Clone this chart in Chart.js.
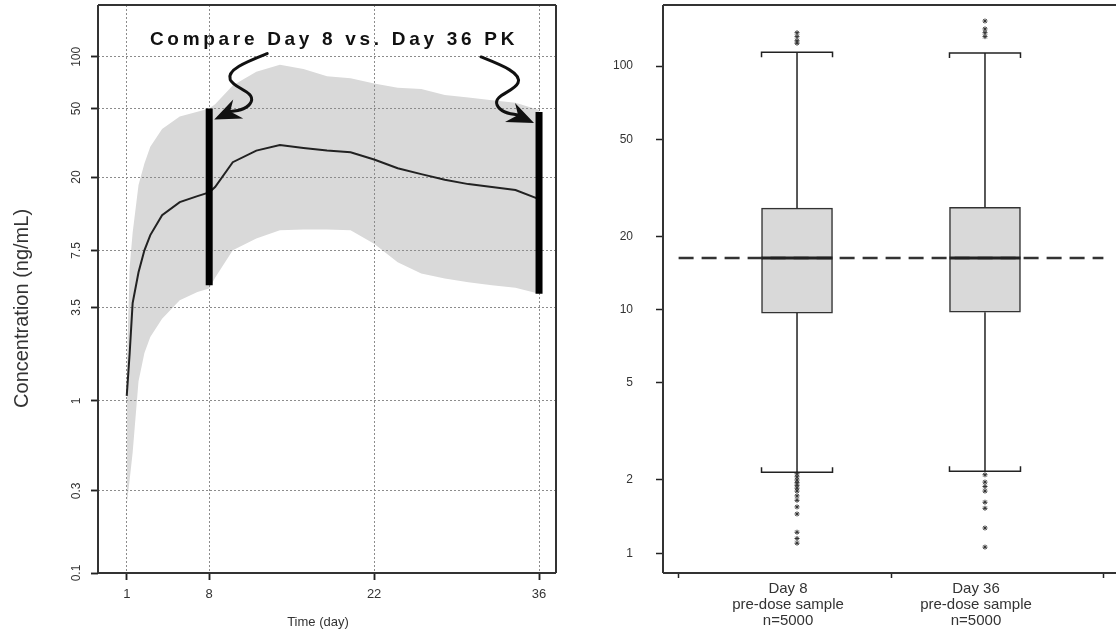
<!DOCTYPE html>
<html>
  <head>
    <title>Day 8 vs Day 36 PK</title>
    <script src="https://cdn.jsdelivr.net/npm/chart.js"></script>
    <style>
      body {
        margin: 0;
        background: white;
        overflow: hidden;
      }
      #left {
        position: absolute;
        left: 0;
        top: 0;
      }
      #right {
        position: absolute;
        left: 575px;
        top: 0;
      }
    </style>
  </head>
  <body>
    <canvas id="left" width="575" height="633"></canvas>
    <canvas id="right" width="546" height="633"></canvas>

    <script>
      // left panel: simulated concentration-time profile
      const days = [1, 1.25, 1.5, 2, 2.5, 3, 4, 5.5, 7, 8, 8.5, 10, 12, 14, 16, 18, 20, 22, 24, 26, 28, 30, 32, 34, 36];
      const meanConc = [1.07, 1.9, 3.7, 5.6, 7.5, 9.2, 12.0, 14.3, 15.5, 16.3, 17.5, 24.4, 28.5, 30.7, 29.5, 28.5, 27.9, 25.3, 22.5, 20.8, 19.3, 18.2, 17.5, 16.8, 14.9];
      const lowerConc = [0.25, 0.35, 0.5, 1.3, 1.9, 2.35, 3.0, 3.85, 4.3, 4.5, 5.2, 7.5, 8.8, 9.8, 9.9, 9.9, 9.8, 8.2, 6.4, 5.5, 5.15, 4.9, 4.7, 4.55, 4.2];
      const upperConc = [1.5, 6, 9.5, 18, 24, 30, 38, 45, 48, 50, 53, 68, 82, 90, 85, 77, 75, 70, 66, 65, 60, 58, 56, 54, 49];
      const compareDays = [8, 36];
      const compareLow = [4.7, 4.2];
      const compareHigh = [50, 47.8];
      const timeTicks = [1, 8, 22, 36];
      const concTicks = [0.1, 0.3, 1, 3.5, 7.5, 20, 50, 100];
      const panelTitle = "Compare Day 8 vs. Day 36 PK";

      // right panel: pre-dose sample boxplots
      const groups = [
        ["Day 8", "pre-dose sample", "n=5000"],
        ["Day 36", "pre-dose sample", "n=5000"],
      ];
      const groupPos = [1, 2];
      const q1 = [9.68, 9.76];
      const medians = [16.3, 16.3];
      const q3 = [26.1, 26.3];
      const whiskLow = [2.15, 2.17];
      const whiskHigh = [114, 113];
      const outliersDay8 = [137, 132, 127, 124, 2.12, 2.06, 2.0, 1.95, 1.9, 1.85, 1.8, 1.72, 1.65, 1.55, 1.45, 1.22, 1.15, 1.1];
      const outliersDay36 = [153, 142, 137, 132, 2.1, 1.96, 1.88, 1.8, 1.62, 1.53, 1.27, 1.06];
      const refLevel = 16.3;
      const boxTicks = [0.37, 1.5, 2.63];
      const boxYTicks = [1, 2, 5, 10, 20, 50, 100];

      Chart.defaults.font.family = "'Liberation Sans', Arial, sans-serif";
      Chart.defaults.color = "#333";

      const frame = (sides) => ({
        id: "frame",
        afterDraw(chart) {
          const { ctx, chartArea: a } = chart;
          ctx.save();
          ctx.strokeStyle = "#333";
          ctx.lineWidth = 2;
          ctx.beginPath();
          if (sides.includes("t")) { ctx.moveTo(a.left, a.top); ctx.lineTo(a.right, a.top); }
          if (sides.includes("r")) { ctx.moveTo(a.right, a.top); ctx.lineTo(a.right, a.bottom); }
          if (sides.includes("b")) { ctx.moveTo(a.left, a.bottom); ctx.lineTo(a.right, a.bottom); }
          if (sides.includes("l")) { ctx.moveTo(a.left, a.top); ctx.lineTo(a.left, a.bottom); }
          ctx.stroke();
          ctx.restore();
        },
      });

      // put the dotted grid back on top of the shaded band, under the lines
      const gridOverBand = {
        id: "gridOverBand",
        beforeDatasetDraw(chart, args) {
          if (args.index === 2) {
            chart.scales.x.drawGrid(chart.chartArea);
            chart.scales.y.drawGrid(chart.chartArea);
          }
        },
      };

      const annotations = {
        id: "annotations",
        afterDatasetsDraw(chart) {
          const { ctx, chartArea: a, scales } = chart;
          ctx.save();
          ctx.font = "bold 19px 'Liberation Sans', Arial, sans-serif";
          ctx.letterSpacing = "3.7px";
          ctx.fillStyle = "#111";
          ctx.textAlign = "center";
          ctx.textBaseline = "middle";
          ctx.fillText(panelTitle, (a.left + a.right) / 2 + 7, a.top + 35);
          ctx.letterSpacing = "0px";

          // wavy arrows pointing at the top of each comparison bar
          compareDays.forEach((d, i) => {
            const s = i === 0 ? 1 : -1;
            const tx = scales.x.getPixelForValue(d) + 5 * s;
            const ty = scales.y.getPixelForValue(compareHigh[i]) + 11;
            const P = (dx, dy) => [tx + dx * s, ty + dy];
            ctx.strokeStyle = "#111";
            ctx.fillStyle = "#111";
            ctx.lineWidth = 3;
            ctx.lineCap = "round";
            ctx.beginPath();
            ctx.moveTo(...P(53, -66));
            ctx.bezierCurveTo(...P(33, -58), ...P(12, -50), ...P(16, -40));
            ctx.bezierCurveTo(...P(20, -31), ...P(41, -28), ...P(37, -18));
            ctx.bezierCurveTo(...P(34, -11), ...P(26, -9), ...P(16, -8));
            ctx.stroke();
            ctx.beginPath();
            ctx.moveTo(...P(0, 0));
            ctx.lineTo(...P(29, -1));
            ctx.lineTo(...P(16, -8));
            ctx.lineTo(...P(19, -20));
            ctx.closePath();
            ctx.fill();
          });
          ctx.restore();
        },
      };

      new Chart(document.getElementById("left").getContext("2d"), {
        type: "line",
        data: {
          datasets: [
            {
              data: days.map((t, i) => ({ x: t, y: lowerConc[i] })),
              borderWidth: 0,
              pointRadius: 0,
              fill: false,
              order: 5,
            },
            {
              data: days.map((t, i) => ({ x: t, y: upperConc[i] })),
              borderWidth: 0,
              pointRadius: 0,
              backgroundColor: "#d9d9d9",
              fill: "-1",
              order: 4,
            },
            {
              data: days.map((t, i) => ({ x: t, y: meanConc[i] })),
              borderColor: "#222",
              borderWidth: 2,
              pointRadius: 0,
              fill: false,
              order: 2,
            },
            ...compareDays.map((d, i) => ({
              data: [
                { x: d, y: compareLow[i] },
                { x: d, y: compareHigh[i] },
              ],
              borderColor: "#000",
              borderWidth: 7,
              borderCapStyle: "butt",
              pointRadius: 0,
              fill: false,
              order: 1,
            })),
          ],
        },
        options: {
          responsive: false,
          animation: false,
          layout: { padding: { left: 0, top: 5, right: 19, bottom: 0 } },
          plugins: {
            legend: { display: false },
            tooltip: { enabled: false },
          },
          scales: {
            x: {
              type: "linear",
              min: -1.44,
              max: 37.44,
              afterBuildTicks: (s) => {
                s.ticks = timeTicks.map((v) => ({ value: v }));
              },
              afterFit: (s) => {
                s.height = 60;
                s.paddingLeft = 0;
                s.paddingRight = 0;
              },
              grid: {
                color: "#8c8c8c",
                lineWidth: 1,
                tickLength: 7,
                tickColor: "#222",
                tickWidth: 1.5,
                tickBorderDash: [],
              },
              border: { display: false, dash: [2, 2] },
              ticks: { autoSkip: false, maxRotation: 0, padding: 7, font: { size: 13 } },
              title: {
                display: true,
                text: "Time (day)     ",
                font: { size: 13 },
                padding: { top: 0, bottom: 3 },
              },
            },
            y: {
              type: "logarithmic",
              min: 0.1,
              max: 200,
              afterBuildTicks: (s) => {
                s.ticks = concTicks.map((v) => ({ value: v }));
              },
              afterFit: (s) => {
                s.width = 98;
                s.paddingTop = 0;
                s.paddingBottom = 0;
              },
              grid: {
                color: "#8c8c8c",
                lineWidth: 1,
                tickLength: 7,
                tickColor: "#222",
                tickWidth: 1.5,
                tickBorderDash: [],
              },
              border: { display: false, dash: [2, 2] },
              ticks: {
                minRotation: 90,
                maxRotation: 90,
                crossAlign: "center",
                padding: 4,
                font: { size: 12 },
                callback: (v) => String(v),
              },
              title: {
                display: true,
                text: "Concentration (ng/mL)       ",
                font: { size: 20 },
                padding: { top: 10 },
              },
            },
          },
        },
        plugins: [gridOverBand, annotations, frame("trbl")],
      });

      const whiskers = {
        id: "whiskers",
        afterDatasetsDraw(chart) {
          const { ctx, scales } = chart;
          const boxes = chart.getDatasetMeta(0).data;
          ctx.save();
          ctx.strokeStyle = "#222";
          groupPos.forEach((p, i) => {
            const x = scales.x.getPixelForValue(p);
            const hw = boxes[i].width / 2;
            const yHi = scales.y.getPixelForValue(whiskHigh[i]);
            const yLo = scales.y.getPixelForValue(whiskLow[i]);
            ctx.lineWidth = 1.5;
            ctx.beginPath();
            ctx.moveTo(x, scales.y.getPixelForValue(q3[i]));
            ctx.lineTo(x, yHi);
            ctx.moveTo(x, scales.y.getPixelForValue(q1[i]));
            ctx.lineTo(x, yLo);
            ctx.moveTo(x - hw, yHi + 5);
            ctx.lineTo(x - hw, yHi);
            ctx.lineTo(x + hw, yHi);
            ctx.lineTo(x + hw, yHi + 5);
            ctx.moveTo(x - hw, yLo - 5);
            ctx.lineTo(x - hw, yLo);
            ctx.lineTo(x + hw, yLo);
            ctx.lineTo(x + hw, yLo - 5);
            ctx.stroke();
            const yMed = scales.y.getPixelForValue(medians[i]);
            ctx.lineWidth = 3;
            ctx.beginPath();
            ctx.moveTo(x - hw, yMed);
            ctx.lineTo(x + hw, yMed);
            ctx.stroke();
          });
          ctx.restore();
        },
      };

      new Chart(document.getElementById("right").getContext("2d"), {
        type: "bar",
        data: {
          datasets: [
            {
              type: "bar",
              data: groupPos.map((p, i) => ({ x: p, y: [q1[i], q3[i]] })),
              backgroundColor: "#d9d9d9",
              borderColor: "#333",
              borderWidth: 1.5,
              borderSkipped: false,
              barThickness: 71,
              order: 3,
            },
            {
              type: "scatter",
              data: outliersDay8
                .map((v) => ({ x: groupPos[0], y: v }))
                .concat(outliersDay36.map((v) => ({ x: groupPos[1], y: v }))),
              pointStyle: "star",
              pointRadius: 2.5,
              borderColor: "#333",
              borderWidth: 1,
              order: 2,
            },
            {
              type: "line",
              data: [
                { x: boxTicks[0], y: refLevel },
                { x: boxTicks[2], y: refLevel },
              ],
              borderColor: "#333",
              borderWidth: 2.5,
              borderDash: [15, 8],
              pointRadius: 0,
              fill: false,
              order: 1,
            },
          ],
        },
        options: {
          responsive: false,
          animation: false,
          layout: { padding: { left: 0, top: 5, right: 0, bottom: 0 } },
          plugins: {
            legend: { display: false },
            tooltip: { enabled: false },
          },
          scales: {
            x: {
              type: "linear",
              offset: false,
              min: 0.287,
              max: 2.697,
              afterBuildTicks: (s) => {
                s.ticks = boxTicks
                  .concat(groupPos)
                  .sort((a, b) => a - b)
                  .map((v) => ({ value: v }));
              },
              afterFit: (s) => {
                s.height = 60;
                s.paddingLeft = 0;
                s.paddingRight = 0;
              },
              grid: {
                offset: false,
                drawOnChartArea: false,
                tickLength: 5,
                tickWidth: 1.5,
                tickColor: (c) => (groupPos.includes(c.tick && c.tick.value) ? "rgba(0,0,0,0)" : "#222"),
              },
              border: { display: false },
              ticks: {
                autoSkip: false,
                maxRotation: 0,
                padding: 3,
                labelOffset: -9,
                font: { size: 15, lineHeight: "16px" },
                callback: (v) => {
                  const i = groupPos.indexOf(v);
                  return i >= 0 ? groups[i] : "";
                },
              },
            },
            y: {
              type: "logarithmic",
              min: 0.83,
              max: 178,
              afterBuildTicks: (s) => {
                s.ticks = boxYTicks.map((v) => ({ value: v }));
              },
              afterFit: (s) => {
                s.width = 88;
                s.paddingTop = 0;
                s.paddingBottom = 0;
              },
              grid: {
                drawOnChartArea: false,
                tickLength: 7,
                tickWidth: 1.5,
                tickColor: "#222",
              },
              border: { display: false },
              ticks: { padding: 23, font: { size: 12 }, callback: (v) => String(v) },
            },
          },
        },
        plugins: [whiskers, frame("tbl")],
      });
    </script>
  </body>
</html>
